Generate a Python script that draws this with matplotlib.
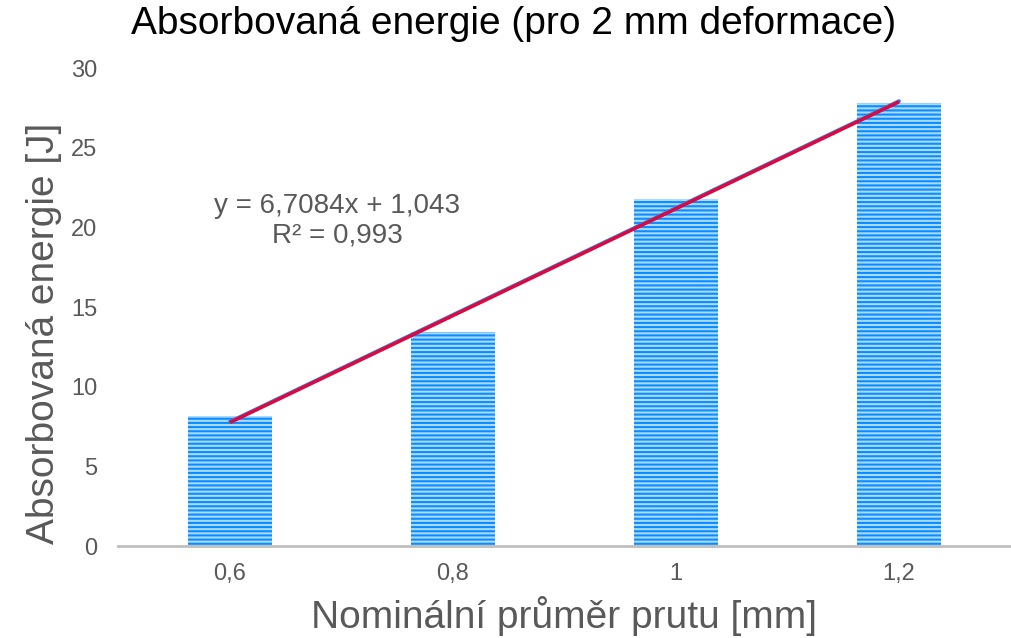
import matplotlib
matplotlib.use("Agg")
import matplotlib.pyplot as plt
import numpy as np

plt.rcParams['font.family'] = ['Liberation Sans', 'DejaVu Sans']
plt.rcParams['hatch.linewidth'] = 1.5

# data
categories = ["0,6", "0,8", "1", "1,2"]
energie = [8.15, 13.45, 21.8, 27.8]
slope = 6.7084
intercept = 1.043
r2 = "0,993"

fig = plt.figure(figsize=(10.12, 6.38), dpi=100)
ax = fig.add_axes([0.117, 0.1442, 0.8815, 0.7492])

x = np.arange(len(categories))
ax.bar(x, energie, width=0.38, color="#ACD9FF", edgecolor="#0A8EFF",
       hatch="----", linewidth=0, zorder=2)

# trendline (x = 1..n in Excel)
xt = np.array([x[0], x[-1]])
yt = slope * (xt + 1) + intercept
ax.plot(xt, yt + 0.04, color="#2F7FE0", linewidth=2.8, zorder=3,
        solid_capstyle="round")
ax.plot(xt, yt, color="#E0073F", linewidth=2.5, zorder=4,
        solid_capstyle="butt")

ax.text(0.245, 0.68, "y = 6,7084x + 1,043\nR² = " + r2, transform=ax.transAxes,
        ha="center", va="center", fontsize=20, color="#595959", linespacing=1.15)

ax.set_xlim(-0.5, 3.5)
ax.set_ylim(0, 30)
ax.set_xticks(x)
ax.set_xticklabels(categories)
ax.set_yticks(range(0, 31, 5))
ax.tick_params(axis="both", length=0, labelsize=17, labelcolor="#595959")
ax.tick_params(axis="x", pad=12)
ax.tick_params(axis="y", pad=15)

for s in ["top", "right", "left"]:
    ax.spines[s].set_visible(False)
ax.spines["bottom"].set_color("#BFBFBF")
ax.spines["bottom"].set_linewidth(2)

fig.text(0.507, 0.962, "Absorbovaná energie (pro 2 mm deformace)", ha="center",
         va="center", fontsize=28, color="black")
ax.set_xlabel("Nominální průměr prutu [mm]", fontsize=28, color="#595959", labelpad=8)
fig.text(0.0435, 0.477, "Absorbovaná energie [J]", rotation=90, ha="center",
         va="center", fontsize=28, color="#595959")

plt.savefig("out.png", dpi=100)
